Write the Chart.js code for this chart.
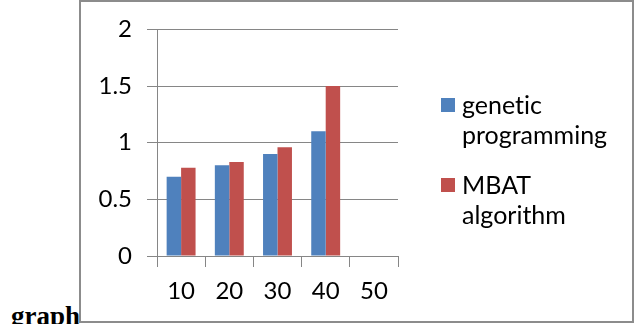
<!DOCTYPE html>
<html>
<head>
<meta charset="utf-8">
<script src="https://cdn.jsdelivr.net/npm/chart.js@4"></script>
<style>
  html, body { margin: 0; padding: 0; background: #fff; }
  body { width: 638px; height: 324px; position: relative; overflow: hidden; }
  #frame { position: absolute; left: 79px; top: 0; width: 551px; height: 319px; border: 2px solid #8c8c8c; }
  #caption { position: absolute; left: 11px; top: 303px; font: bold 27px/26px "Liberation Serif", serif; color: #000; white-space: nowrap; }
  #chart { position: absolute; left: 0; top: 0; }
  .item { position: absolute; left: 441px; font: 25px/30px Lato, sans-serif; color: #000; font-variant-ligatures: none; }
  .item .box { position: absolute; left: 0; top: 9px; width: 14px; height: 14px; }
  .item .txt { position: absolute; left: 21px; top: 0; white-space: nowrap; }
</style>
</head>
<body>
<div id="frame"></div>
<div id="caption">graph</div>
<canvas id="chart" width="638" height="324"></canvas>
<div id="legend"></div>
<script>
const categories = ["10", "20", "30", "40", "50"];
const geneticProgramming = [0.7, 0.8, 0.9, 1.1, null];
const mbatAlgorithm = [0.78, 0.83, 0.96, 1.5, null];
const seriesNames = [["genetic", "programming"], ["MBAT", "algorithm"]];
const seriesColors = ["#4f81bd", "#c0504d"];

const gridGray = "#868686";

const chartConfig = {
  type: "bar",
  data: {
    labels: categories,
    datasets: [
      {
        label: seriesNames[0].join(" "),
        data: geneticProgramming,
        backgroundColor: seriesColors[0],
        categoryPercentage: 0.6,
        barPercentage: 1,
      },
      {
        label: seriesNames[1].join(" "),
        data: mbatAlgorithm,
        backgroundColor: seriesColors[1],
        categoryPercentage: 0.6,
        barPercentage: 1,
      },
    ],
  },
  options: {
    responsive: false,
    animation: false,
    layout: {
      padding: { left: 0, top: 29, right: 240, bottom: 18 },
    },
    plugins: {
      legend: { display: false },
      tooltip: { enabled: false },
    },
    scales: {
      x: {
        grid: {
          offset: true,
          drawOnChartArea: false,
          tickLength: 11,
          color: gridGray,
        },
        border: { color: gridGray },
        ticks: {
          color: "#000",
          padding: 10,
          font: { family: "Lato", size: 24 },
        },
        afterFit: (scale) => { scale.height = 50; },
      },
      y: {
        min: 0,
        max: 2,
        ticks: {
          stepSize: 0.5,
          color: "#000",
          padding: 15,
          font: { family: "Lato", size: 24 },
          callback: (value) => String(value),
        },
        grid: { tickLength: 10, color: gridGray },
        border: { color: gridGray },
        afterFit: (scale) => { scale.width = 157; },
      },
    },
  },
};

new Chart(document.getElementById("chart"), chartConfig);

// legend as html so the names wrap onto two lines like the original
const legend = document.getElementById("legend");
const legendTops = [89, 169];
seriesNames.forEach((lines, i) => {
  const item = document.createElement("div");
  item.className = "item";
  item.style.top = legendTops[i] + "px";
  item.innerHTML = '<div class="box" style="background:' + seriesColors[i] + '"></div>' +
    '<div class="txt">' + lines.join("<br>") + "</div>";
  legend.appendChild(item);
});
</script>
</body>
</html>
